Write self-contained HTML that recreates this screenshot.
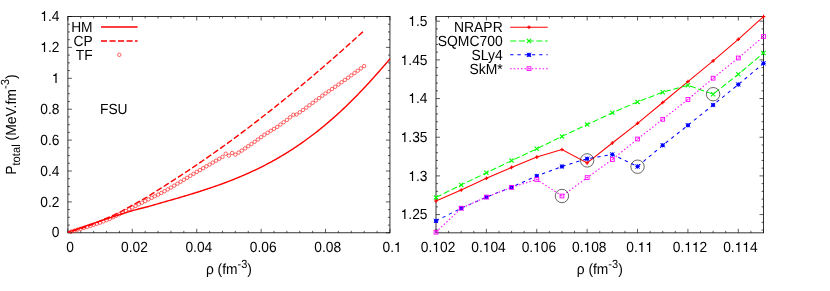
<!DOCTYPE html>
<html><head><meta charset="utf-8"><title>plot</title>
<style>html,body{margin:0;padding:0;background:#fff;}svg{display:block;}</style></head>
<body>
<svg width="830" height="291" viewBox="0 0 830 291" font-family='"Liberation Sans", sans-serif' fill="#000" text-rendering="geometricPrecision">
<rect width="830" height="291" fill="#fff"/>
<filter id="ga" x="0" y="0" width="830" height="291" filterUnits="userSpaceOnUse" color-interpolation-filters="sRGB"><feOffset dx="0" dy="0"/></filter>
<g filter="url(#ga)">
<rect x="67.90" y="16.50" width="322.05" height="216.30" fill="none" stroke="#000" stroke-width="0.80"/>
<path d="M67.90 232.80v-4.00 M67.90 16.50v4.00 M80.78 232.80v-2.00 M80.78 16.50v2.00 M93.66 232.80v-2.00 M93.66 16.50v2.00 M106.55 232.80v-2.00 M106.55 16.50v2.00 M119.43 232.80v-2.00 M119.43 16.50v2.00 M132.31 232.80v-4.00 M132.31 16.50v4.00 M145.19 232.80v-2.00 M145.19 16.50v2.00 M158.07 232.80v-2.00 M158.07 16.50v2.00 M170.96 232.80v-2.00 M170.96 16.50v2.00 M183.84 232.80v-2.00 M183.84 16.50v2.00 M196.72 232.80v-4.00 M196.72 16.50v4.00 M209.60 232.80v-2.00 M209.60 16.50v2.00 M222.48 232.80v-2.00 M222.48 16.50v2.00 M235.37 232.80v-2.00 M235.37 16.50v2.00 M248.25 232.80v-2.00 M248.25 16.50v2.00 M261.13 232.80v-4.00 M261.13 16.50v4.00 M274.01 232.80v-2.00 M274.01 16.50v2.00 M286.89 232.80v-2.00 M286.89 16.50v2.00 M299.78 232.80v-2.00 M299.78 16.50v2.00 M312.66 232.80v-2.00 M312.66 16.50v2.00 M325.54 232.80v-4.00 M325.54 16.50v4.00 M338.42 232.80v-2.00 M338.42 16.50v2.00 M351.30 232.80v-2.00 M351.30 16.50v2.00 M364.19 232.80v-2.00 M364.19 16.50v2.00 M377.07 232.80v-2.00 M377.07 16.50v2.00 M389.95 232.80v-4.00 M389.95 16.50v4.00 M67.90 232.80h4.00 M389.95 232.80h-4.00 M67.90 225.08h2.00 M389.95 225.08h-2.00 M67.90 217.35h2.00 M389.95 217.35h-2.00 M67.90 209.62h2.00 M389.95 209.62h-2.00 M67.90 201.90h4.00 M389.95 201.90h-4.00 M67.90 194.18h2.00 M389.95 194.18h-2.00 M67.90 186.45h2.00 M389.95 186.45h-2.00 M67.90 178.73h2.00 M389.95 178.73h-2.00 M67.90 171.00h4.00 M389.95 171.00h-4.00 M67.90 163.28h2.00 M389.95 163.28h-2.00 M67.90 155.55h2.00 M389.95 155.55h-2.00 M67.90 147.82h2.00 M389.95 147.82h-2.00 M67.90 140.10h4.00 M389.95 140.10h-4.00 M67.90 132.38h2.00 M389.95 132.38h-2.00 M67.90 124.65h2.00 M389.95 124.65h-2.00 M67.90 116.93h2.00 M389.95 116.93h-2.00 M67.90 109.20h4.00 M389.95 109.20h-4.00 M67.90 101.47h2.00 M389.95 101.47h-2.00 M67.90 93.75h2.00 M389.95 93.75h-2.00 M67.90 86.03h2.00 M389.95 86.03h-2.00 M67.90 78.30h4.00 M389.95 78.30h-4.00 M67.90 70.58h2.00 M389.95 70.58h-2.00 M67.90 62.85h2.00 M389.95 62.85h-2.00 M67.90 55.12h2.00 M389.95 55.12h-2.00 M67.90 47.40h4.00 M389.95 47.40h-4.00 M67.90 39.68h2.00 M389.95 39.68h-2.00 M67.90 31.95h2.00 M389.95 31.95h-2.00 M67.90 24.22h2.00 M389.95 24.22h-2.00 M67.90 16.50h4.00 M389.95 16.50h-4.00" stroke="#000" stroke-width="0.65" fill="none"/>
<g transform="translate(70.00 252.00) scale(0.985 1.050)"><text x="-3.89" y="0" font-size="14.00">0</text></g>
<g transform="translate(134.41 252.00) scale(0.985 1.050)"><text x="-13.62" y="0" font-size="14.00">0.02</text></g>
<g transform="translate(198.82 252.00) scale(0.985 1.050)"><text x="-13.62" y="0" font-size="14.00">0.04</text></g>
<g transform="translate(263.23 252.00) scale(0.985 1.050)"><text x="-13.62" y="0" font-size="14.00">0.06</text></g>
<g transform="translate(327.64 252.00) scale(0.985 1.050)"><text x="-13.62" y="0" font-size="14.00">0.08</text></g>
<g transform="translate(392.05 252.00) scale(0.985 1.050)"><text x="-9.73" y="0" font-size="14.00">0.</text><path transform="translate(1.95 0) scale(0.01400 -0.01400)" d="M259 0V481H102V541C190 545 262 581 291 675H347V0Z"/></g>
<g transform="translate(59.50 237.00) scale(0.985 1.050)"><text x="-7.78" y="0" font-size="14.00">0</text></g>
<g transform="translate(59.50 207.00) scale(0.985 1.050)"><text x="-19.46" y="0" font-size="14.00">0.2</text></g>
<g transform="translate(59.50 176.00) scale(0.985 1.050)"><text x="-19.46" y="0" font-size="14.00">0.4</text></g>
<g transform="translate(59.50 145.00) scale(0.985 1.050)"><text x="-19.46" y="0" font-size="14.00">0.6</text></g>
<g transform="translate(59.50 114.00) scale(0.985 1.050)"><text x="-19.46" y="0" font-size="14.00">0.8</text></g>
<g transform="translate(59.50 83.00) scale(0.985 1.050)"><path transform="translate(-7.78 0) scale(0.01400 -0.01400)" d="M259 0V481H102V541C190 545 262 581 291 675H347V0Z"/></g>
<g transform="translate(59.50 52.00) scale(0.985 1.050)"><path transform="translate(-19.46 0) scale(0.01400 -0.01400)" d="M259 0V481H102V541C190 545 262 581 291 675H347V0Z"/><text x="-11.68" y="0" font-size="14.00">.2</text></g>
<g transform="translate(59.50 21.00) scale(0.985 1.050)"><path transform="translate(-19.46 0) scale(0.01400 -0.01400)" d="M259 0V481H102V541C190 545 262 581 291 675H347V0Z"/><text x="-11.68" y="0" font-size="14.00">.4</text></g>
<text transform="translate(228.93 273.70) scale(0.985 1.050)" text-anchor="middle" font-size="14.00">ρ (fm<tspan font-size="11.20" dy="-5.0">-3</tspan><tspan dy="5.0">)</tspan></text>
<text transform="translate(15.5 124.6) rotate(-90) scale(0.998 1.050)" text-anchor="middle" font-size="14.00">P<tspan font-size="11.20" dy="4.4">total</tspan><tspan dy="-4.4"> (MeV.fm</tspan><tspan font-size="11.20" dy="-6.4">-3</tspan><tspan dy="6.4">)</tspan></text>
<text transform="translate(92.60 31.80) scale(0.985 1.050)" text-anchor="end" font-size="14.00" >HM</text>
<text transform="translate(92.60 45.80) scale(0.985 1.050)" text-anchor="end" font-size="14.00" >CP</text>
<text transform="translate(92.60 59.80) scale(0.985 1.050)" text-anchor="end" font-size="14.00" >TF</text>
<path d="M101 26.9H137.6" stroke="#ff0000" stroke-width="1.5"/>
<path d="M101 41H137.6" stroke="#ff0000" stroke-width="1.5" stroke-dasharray="6.1 2.4"/>
<circle cx="119.3" cy="54.8" r="1.72" stroke="#ff0000" stroke-width="0.6" fill="none"/>
<text transform="translate(100.00 113.80) scale(0.985 1.050)" text-anchor="start" font-size="14.00" >FSU</text>
<rect x="436.00" y="16.50" width="327.50" height="216.35" fill="none" stroke="#000" stroke-width="0.80"/>
<path d="M436.00 232.85v-4.00 M436.00 16.50v4.00 M448.60 232.85v-2.00 M448.60 16.50v2.00 M461.19 232.85v-2.00 M461.19 16.50v2.00 M473.79 232.85v-2.00 M473.79 16.50v2.00 M486.38 232.85v-4.00 M486.38 16.50v4.00 M498.98 232.85v-2.00 M498.98 16.50v2.00 M511.58 232.85v-2.00 M511.58 16.50v2.00 M524.17 232.85v-2.00 M524.17 16.50v2.00 M536.77 232.85v-4.00 M536.77 16.50v4.00 M549.37 232.85v-2.00 M549.37 16.50v2.00 M561.96 232.85v-2.00 M561.96 16.50v2.00 M574.56 232.85v-2.00 M574.56 16.50v2.00 M587.15 232.85v-4.00 M587.15 16.50v4.00 M599.75 232.85v-2.00 M599.75 16.50v2.00 M612.35 232.85v-2.00 M612.35 16.50v2.00 M624.94 232.85v-2.00 M624.94 16.50v2.00 M637.54 232.85v-4.00 M637.54 16.50v4.00 M650.13 232.85v-2.00 M650.13 16.50v2.00 M662.73 232.85v-2.00 M662.73 16.50v2.00 M675.33 232.85v-2.00 M675.33 16.50v2.00 M687.92 232.85v-4.00 M687.92 16.50v4.00 M700.52 232.85v-2.00 M700.52 16.50v2.00 M713.12 232.85v-2.00 M713.12 16.50v2.00 M725.71 232.85v-2.00 M725.71 16.50v2.00 M738.31 232.85v-4.00 M738.31 16.50v4.00 M750.90 232.85v-2.00 M750.90 16.50v2.00 M763.50 232.85v-2.00 M763.50 16.50v2.00 M436.00 21.20h4.00 M763.50 21.20h-4.00 M436.00 28.93h2.00 M763.50 28.93h-2.00 M436.00 36.67h2.00 M763.50 36.67h-2.00 M436.00 44.41h2.00 M763.50 44.41h-2.00 M436.00 52.14h2.00 M763.50 52.14h-2.00 M436.00 59.88h4.00 M763.50 59.88h-4.00 M436.00 67.61h2.00 M763.50 67.61h-2.00 M436.00 75.34h2.00 M763.50 75.34h-2.00 M436.00 83.08h2.00 M763.50 83.08h-2.00 M436.00 90.82h2.00 M763.50 90.82h-2.00 M436.00 98.55h4.00 M763.50 98.55h-4.00 M436.00 106.29h2.00 M763.50 106.29h-2.00 M436.00 114.02h2.00 M763.50 114.02h-2.00 M436.00 121.76h2.00 M763.50 121.76h-2.00 M436.00 129.49h2.00 M763.50 129.49h-2.00 M436.00 137.22h4.00 M763.50 137.22h-4.00 M436.00 144.96h2.00 M763.50 144.96h-2.00 M436.00 152.69h2.00 M763.50 152.69h-2.00 M436.00 160.43h2.00 M763.50 160.43h-2.00 M436.00 168.16h2.00 M763.50 168.16h-2.00 M436.00 175.90h4.00 M763.50 175.90h-4.00 M436.00 183.63h2.00 M763.50 183.63h-2.00 M436.00 191.37h2.00 M763.50 191.37h-2.00 M436.00 199.10h2.00 M763.50 199.10h-2.00 M436.00 206.84h2.00 M763.50 206.84h-2.00 M436.00 214.57h4.00 M763.50 214.57h-4.00 M436.00 222.31h2.00 M763.50 222.31h-2.00 M436.00 230.04h2.00 M763.50 230.04h-2.00" stroke="#000" stroke-width="0.65" fill="none"/>
<g transform="translate(438.10 252.00) scale(0.985 1.050)"><text x="-17.51" y="0" font-size="14.00">0.</text><path transform="translate(-5.84 0) scale(0.01400 -0.01400)" d="M259 0V481H102V541C190 545 262 581 291 675H347V0Z"/><text x="1.95" y="0" font-size="14.00">02</text></g>
<g transform="translate(488.48 252.00) scale(0.985 1.050)"><text x="-17.51" y="0" font-size="14.00">0.</text><path transform="translate(-5.84 0) scale(0.01400 -0.01400)" d="M259 0V481H102V541C190 545 262 581 291 675H347V0Z"/><text x="1.95" y="0" font-size="14.00">04</text></g>
<g transform="translate(538.87 252.00) scale(0.985 1.050)"><text x="-17.51" y="0" font-size="14.00">0.</text><path transform="translate(-5.84 0) scale(0.01400 -0.01400)" d="M259 0V481H102V541C190 545 262 581 291 675H347V0Z"/><text x="1.95" y="0" font-size="14.00">06</text></g>
<g transform="translate(589.25 252.00) scale(0.985 1.050)"><text x="-17.51" y="0" font-size="14.00">0.</text><path transform="translate(-5.84 0) scale(0.01400 -0.01400)" d="M259 0V481H102V541C190 545 262 581 291 675H347V0Z"/><text x="1.95" y="0" font-size="14.00">08</text></g>
<g transform="translate(639.64 252.00) scale(0.985 1.050)"><text x="-13.62" y="0" font-size="14.00">0.</text><path transform="translate(-1.95 0) scale(0.01400 -0.01400)" d="M259 0V481H102V541C190 545 262 581 291 675H347V0Z"/><path transform="translate(5.84 0) scale(0.01400 -0.01400)" d="M259 0V481H102V541C190 545 262 581 291 675H347V0Z"/></g>
<g transform="translate(690.02 252.00) scale(0.985 1.050)"><text x="-17.51" y="0" font-size="14.00">0.</text><path transform="translate(-5.84 0) scale(0.01400 -0.01400)" d="M259 0V481H102V541C190 545 262 581 291 675H347V0Z"/><path transform="translate(1.95 0) scale(0.01400 -0.01400)" d="M259 0V481H102V541C190 545 262 581 291 675H347V0Z"/><text x="9.73" y="0" font-size="14.00">2</text></g>
<g transform="translate(740.41 252.00) scale(0.985 1.050)"><text x="-17.51" y="0" font-size="14.00">0.</text><path transform="translate(-5.84 0) scale(0.01400 -0.01400)" d="M259 0V481H102V541C190 545 262 581 291 675H347V0Z"/><path transform="translate(1.95 0) scale(0.01400 -0.01400)" d="M259 0V481H102V541C190 545 262 581 291 675H347V0Z"/><text x="9.73" y="0" font-size="14.00">4</text></g>
<g transform="translate(427.50 26.00) scale(0.985 1.050)"><path transform="translate(-19.46 0) scale(0.01400 -0.01400)" d="M259 0V481H102V541C190 545 262 581 291 675H347V0Z"/><text x="-11.68" y="0" font-size="14.00">.5</text></g>
<g transform="translate(427.50 65.00) scale(0.985 1.050)"><path transform="translate(-27.24 0) scale(0.01400 -0.01400)" d="M259 0V481H102V541C190 545 262 581 291 675H347V0Z"/><text x="-19.46" y="0" font-size="14.00">.45</text></g>
<g transform="translate(427.50 103.00) scale(0.985 1.050)"><path transform="translate(-19.46 0) scale(0.01400 -0.01400)" d="M259 0V481H102V541C190 545 262 581 291 675H347V0Z"/><text x="-11.68" y="0" font-size="14.00">.4</text></g>
<g transform="translate(427.50 142.00) scale(0.985 1.050)"><path transform="translate(-27.24 0) scale(0.01400 -0.01400)" d="M259 0V481H102V541C190 545 262 581 291 675H347V0Z"/><text x="-19.46" y="0" font-size="14.00">.35</text></g>
<g transform="translate(427.50 181.00) scale(0.985 1.050)"><path transform="translate(-19.46 0) scale(0.01400 -0.01400)" d="M259 0V481H102V541C190 545 262 581 291 675H347V0Z"/><text x="-11.68" y="0" font-size="14.00">.3</text></g>
<g transform="translate(427.50 219.00) scale(0.985 1.050)"><path transform="translate(-27.24 0) scale(0.01400 -0.01400)" d="M259 0V481H102V541C190 545 262 581 291 675H347V0Z"/><text x="-19.46" y="0" font-size="14.00">.25</text></g>
<text transform="translate(599.75 273.70) scale(0.985 1.050)" text-anchor="middle" font-size="14.00">ρ (fm<tspan font-size="11.20" dy="-5.0">-3</tspan><tspan dy="5.0">)</tspan></text>
<text transform="translate(502.70 32.00) scale(0.995 1.050)" text-anchor="end" font-size="14.00" >NRAPR</text>
<path d="M510.2 27.20H547.7" stroke="#ff0000" stroke-width="1.05"/>
<path d="M527.20 27.20H530.80M529.00 25.40V29.00" stroke="#ff0000" stroke-width="1.2" fill="none"/>
<text transform="translate(502.70 46.00) scale(0.995 1.050)" text-anchor="end" font-size="14.00" >SQMC700</text>
<path d="M510.2 41.02H547.7" stroke="#00ff00" stroke-width="1.05" stroke-dasharray="6.1 2.6"/>
<path d="M526.90 38.92L531.10 43.12M526.90 43.12L531.10 38.92" stroke="#00ff00" stroke-width="1.1" fill="none"/>
<text transform="translate(502.70 59.90) scale(0.995 1.050)" text-anchor="end" font-size="14.00" >SLy4</text>
<path d="M510.2 54.84H547.7" stroke="#0000ff" stroke-width="1.05" stroke-dasharray="3.3 3.95"/>
<path d="M526.85 52.69L531.15 56.99M526.85 56.99L531.15 52.69M526.85 54.84H531.15M529.00 52.69V56.99" stroke="#0000ff" stroke-width="1.0" fill="none"/><rect x="527.35" y="53.19" width="3.3" height="3.3" fill="#0000ff"/>
<text transform="translate(502.70 73.90) scale(0.995 1.050)" text-anchor="end" font-size="14.00" >SkM*</text>
<path d="M510.2 68.66H547.7" stroke="#ff00ff" stroke-width="1.05" stroke-dasharray="1.5 2.1"/>
<rect x="527.10" y="66.76" width="3.80" height="3.80" stroke="#ff00ff" stroke-width="0.9" fill="none"/><rect x="528.50" y="68.16" width="1" height="1" fill="#ff00ff"/>
<clipPath id="cl"><rect x="67.90" y="13.50" width="322.55" height="222.30"/></clipPath>
<g clip-path="url(#cl)" fill="none" stroke="#ff0000">
<path d="M67.80 232.20 L68.81 231.85 L69.82 231.51 L70.83 231.16 L71.84 230.81 L72.85 230.46 L73.86 230.12 L74.87 229.77 L75.88 229.42 L76.89 229.07 L77.90 228.72 L78.91 228.38 L79.92 228.03 L80.93 227.68 L81.94 227.33 L82.95 226.98 L83.96 226.63 L84.97 226.28 L85.98 225.93 L86.99 225.58 L88.00 225.23 L89.01 224.88 L90.02 224.53 L91.03 224.18 L92.04 223.84 L93.05 223.49 L94.06 223.14 L95.07 222.79 L96.08 222.44 L97.09 222.09 L98.10 221.74 L99.11 221.40 L100.12 221.05 L101.13 220.70 L102.14 220.36 L103.15 220.01 L104.16 219.67 L105.17 219.33 L106.18 218.99 L107.19 218.65 L108.20 218.31 L109.21 217.97 L110.22 217.64 L111.23 217.30 L112.24 216.97 L113.25 216.64 L114.26 216.31 L115.27 215.98 L116.28 215.65 L117.29 215.33 L118.30 215.00 L119.31 214.68 L120.32 214.36 L121.33 214.04 L122.34 213.72 L123.35 213.40 L124.36 213.09 L125.37 212.78 L126.38 212.47 L127.39 212.17 L128.40 211.87 L129.41 211.57 L130.42 211.28 L131.43 210.99 L132.44 210.69 L133.45 210.41 L134.46 210.12 L135.47 209.84 L136.48 209.55 L137.49 209.28 L138.50 209.00 L139.51 208.73 L140.52 208.46 L141.53 208.20 L142.54 207.95 L143.55 207.70 L144.56 207.45 L145.57 207.21 L146.58 206.96 L147.59 206.71 L148.60 206.45 L149.61 206.18 L150.62 205.91 L151.63 205.63 L152.64 205.34 L153.65 205.04 L154.66 204.74 L155.67 204.45 L156.68 204.15 L157.69 203.85 L158.70 203.56 L159.71 203.27 L160.72 202.98 L161.73 202.69 L162.74 202.39 L163.75 202.10 L164.76 201.81 L165.77 201.52 L166.78 201.23 L167.79 200.94 L168.80 200.66 L169.81 200.37 L170.82 200.08 L171.83 199.79 L172.84 199.50 L173.85 199.21 L174.86 198.92 L175.87 198.63 L176.88 198.34 L177.89 198.05 L178.90 197.76 L179.91 197.47 L180.92 197.18 L181.93 196.88 L182.94 196.58 L183.95 196.28 L184.96 195.98 L185.97 195.67 L186.98 195.37 L187.99 195.06 L189.00 194.75 L190.01 194.45 L191.02 194.14 L192.03 193.83 L193.04 193.52 L194.05 193.21 L195.06 192.90 L196.07 192.59 L197.08 192.27 L198.09 191.96 L199.10 191.64 L200.11 191.32 L201.12 190.99 L202.13 190.66 L203.14 190.34 L204.15 190.01 L205.16 189.68 L206.17 189.34 L207.18 189.01 L208.19 188.67 L209.20 188.33 L210.21 187.99 L211.22 187.65 L212.23 187.30 L213.24 186.96 L214.25 186.61 L215.26 186.26 L216.27 185.91 L217.28 185.55 L218.29 185.20 L219.30 184.84 L220.31 184.48 L221.32 184.11 L222.33 183.74 L223.34 183.37 L224.35 183.00 L225.36 182.62 L226.37 182.24 L227.38 181.86 L228.39 181.47 L229.41 181.08 L230.42 180.69 L231.43 180.29 L232.44 179.89 L233.45 179.49 L234.46 179.08 L235.47 178.67 L236.48 178.26 L237.49 177.84 L238.50 177.43 L239.51 177.00 L240.52 176.58 L241.53 176.15 L242.54 175.72 L243.55 175.28 L244.56 174.85 L245.57 174.40 L246.58 173.96 L247.59 173.51 L248.60 173.06 L249.61 172.60 L250.62 172.14 L251.63 171.67 L252.64 171.21 L253.65 170.73 L254.66 170.26 L255.67 169.78 L256.68 169.29 L257.69 168.80 L258.70 168.31 L259.71 167.82 L260.72 167.31 L261.73 166.81 L262.74 166.30 L263.75 165.79 L264.76 165.27 L265.77 164.75 L266.78 164.22 L267.79 163.69 L268.80 163.15 L269.81 162.61 L270.82 162.07 L271.83 161.52 L272.84 160.97 L273.85 160.41 L274.86 159.84 L275.87 159.28 L276.88 158.70 L277.89 158.12 L278.90 157.54 L279.91 156.95 L280.92 156.36 L281.93 155.76 L282.94 155.15 L283.95 154.54 L284.96 153.93 L285.97 153.31 L286.98 152.69 L287.99 152.05 L289.00 151.42 L290.01 150.78 L291.02 150.13 L292.03 149.48 L293.04 148.82 L294.05 148.15 L295.06 147.49 L296.07 146.81 L297.08 146.13 L298.09 145.45 L299.10 144.76 L300.11 144.06 L301.12 143.36 L302.13 142.65 L303.14 141.94 L304.15 141.23 L305.16 140.50 L306.17 139.78 L307.18 139.05 L308.19 138.31 L309.20 137.56 L310.21 136.81 L311.22 136.06 L312.23 135.29 L313.24 134.52 L314.25 133.75 L315.26 132.97 L316.27 132.18 L317.28 131.39 L318.29 130.59 L319.30 129.79 L320.31 128.97 L321.32 128.16 L322.33 127.33 L323.34 126.50 L324.35 125.67 L325.36 124.82 L326.37 123.98 L327.38 123.12 L328.39 122.26 L329.40 121.40 L330.41 120.52 L331.42 119.64 L332.43 118.76 L333.44 117.87 L334.45 116.97 L335.46 116.07 L336.47 115.16 L337.48 114.24 L338.49 113.32 L339.50 112.39 L340.51 111.46 L341.52 110.52 L342.53 109.57 L343.54 108.62 L344.55 107.66 L345.56 106.70 L346.57 105.72 L347.58 104.75 L348.59 103.77 L349.60 102.78 L350.61 101.78 L351.62 100.78 L352.63 99.78 L353.64 98.77 L354.65 97.75 L355.66 96.72 L356.67 95.69 L357.68 94.66 L358.69 93.62 L359.70 92.57 L360.71 91.52 L361.72 90.46 L362.73 89.40 L363.74 88.33 L364.75 87.26 L365.76 86.18 L366.77 85.09 L367.78 84.00 L368.79 82.91 L369.80 81.80 L370.81 80.70 L371.82 79.59 L372.83 78.47 L373.84 77.35 L374.85 76.22 L375.86 75.09 L376.87 73.96 L377.88 72.81 L378.89 71.67 L379.90 70.52 L380.91 69.36 L381.92 68.20 L382.93 67.04 L383.94 65.87 L384.95 64.70 L385.96 63.52 L386.97 62.34 L387.98 61.16 L388.99 59.97 L390.00 58.77" stroke-width="1.40"/>
<path d="M362.90 31.73 L361.91 32.63 L360.93 33.54 L359.94 34.44 L358.95 35.34 L357.97 36.24 L356.98 37.13 L355.99 38.03 L355.00 38.92 L354.02 39.81 L353.03 40.71 L352.04 41.60 L351.06 42.48 L350.07 43.37 L349.08 44.26 L348.10 45.14 L347.11 46.03 L346.12 46.91 L345.13 47.79 L344.15 48.67 L343.16 49.55 L342.17 50.42 L341.19 51.30 L340.20 52.17 L339.21 53.04 L338.23 53.91 L337.24 54.78 L336.25 55.65 L335.27 56.52 L334.28 57.38 L333.29 58.24 L332.30 59.11 L331.32 59.97 L330.33 60.83 L329.34 61.68 L328.36 62.54 L327.37 63.40 L326.38 64.25 L325.40 65.10 L324.41 65.96 L323.42 66.81 L322.43 67.66 L321.45 68.50 L320.46 69.35 L319.47 70.20 L318.49 71.04 L317.50 71.89 L316.51 72.73 L315.53 73.57 L314.54 74.41 L313.55 75.25 L312.57 76.08 L311.58 76.92 L310.59 77.76 L309.60 78.59 L308.62 79.42 L307.63 80.25 L306.64 81.08 L305.66 81.91 L304.67 82.74 L303.68 83.56 L302.70 84.39 L301.71 85.21 L300.72 86.03 L299.73 86.85 L298.75 87.67 L297.76 88.48 L296.77 89.30 L295.79 90.11 L294.80 90.93 L293.81 91.74 L292.83 92.55 L291.84 93.36 L290.85 94.17 L289.87 94.98 L288.88 95.78 L287.89 96.59 L286.90 97.39 L285.92 98.19 L284.93 98.99 L283.94 99.79 L282.96 100.59 L281.97 101.39 L280.98 102.19 L280.00 102.98 L279.01 103.78 L278.02 104.57 L277.03 105.36 L276.05 106.15 L275.06 106.94 L274.07 107.73 L273.09 108.51 L272.10 109.29 L271.11 110.08 L270.13 110.86 L269.14 111.64 L268.15 112.42 L267.17 113.19 L266.18 113.97 L265.19 114.74 L264.20 115.52 L263.22 116.29 L262.23 117.06 L261.24 117.83 L260.26 118.59 L259.27 119.36 L258.28 120.12 L257.30 120.89 L256.31 121.65 L255.32 122.41 L254.33 123.17 L253.35 123.93 L252.36 124.68 L251.37 125.44 L250.39 126.19 L249.40 126.94 L248.41 127.69 L247.43 128.44 L246.44 129.19 L245.45 129.94 L244.47 130.68 L243.48 131.42 L242.49 132.17 L241.50 132.91 L240.52 133.65 L239.53 134.39 L238.54 135.12 L237.56 135.86 L236.57 136.59 L235.58 137.32 L234.60 138.05 L233.61 138.78 L232.62 139.51 L231.63 140.23 L230.65 140.95 L229.66 141.68 L228.67 142.39 L227.69 143.11 L226.70 143.83 L225.71 144.54 L224.73 145.25 L223.74 145.96 L222.75 146.67 L221.77 147.38 L220.78 148.08 L219.79 148.79 L218.80 149.49 L217.82 150.19 L216.83 150.89 L215.84 151.59 L214.86 152.28 L213.87 152.98 L212.88 153.67 L211.90 154.36 L210.91 155.06 L209.92 155.75 L208.93 156.43 L207.95 157.12 L206.96 157.81 L205.97 158.49 L204.99 159.17 L204.00 159.85 L203.01 160.53 L202.03 161.21 L201.04 161.89 L200.05 162.57 L199.07 163.24 L198.08 163.91 L197.09 164.59 L196.10 165.26 L195.12 165.92 L194.13 166.59 L193.14 167.26 L192.16 167.92 L191.17 168.59 L190.18 169.25 L189.20 169.91 L188.21 170.57 L187.22 171.22 L186.23 171.88 L185.25 172.54 L184.26 173.19 L183.27 173.84 L182.29 174.49 L181.30 175.14 L180.31 175.79 L179.33 176.44 L178.34 177.08 L177.35 177.73 L176.37 178.37 L175.38 179.01 L174.39 179.65 L173.40 180.29 L172.42 180.92 L171.43 181.56 L170.44 182.19 L169.46 182.82 L168.47 183.45 L167.48 184.08 L166.50 184.71 L165.51 185.34 L164.52 185.97 L163.53 186.59 L162.55 187.22 L161.56 187.84 L160.57 188.46 L159.59 189.08 L158.60 189.70 L157.61 190.32 L156.63 190.94 L155.64 191.56 L154.65 192.19 L153.67 192.82 L152.68 193.46 L151.69 194.10 L150.70 194.74 L149.72 195.38 L148.73 196.00 L147.74 196.62 L146.76 197.23 L145.77 197.81 L144.78 198.39 L143.80 198.95 L142.81 199.50 L141.82 200.05 L140.83 200.59 L139.85 201.13 L138.86 201.68 L137.87 202.22 L136.89 202.75 L135.90 203.28 L134.91 203.81 L133.93 204.35 L132.94 204.88 L131.95 205.42 L130.97 205.98 L129.98 206.54 L128.99 207.12 L128.00 207.70 L127.02 208.27 L126.03 208.83 L125.04 209.39 L124.06 209.93 L123.07 210.47 L122.08 211.00 L121.10 211.51 L120.11 212.02 L119.12 212.51 L118.13 213.00 L117.15 213.48 L116.16 213.96 L115.17 214.42 L114.19 214.87 L113.20 215.31 L112.21 215.74 L111.23 216.17 L110.24 216.60 L109.25 217.02 L108.27 217.45 L107.28 217.87 L106.29 218.29 L105.30 218.72 L104.32 219.15 L103.33 219.59 L102.34 220.04 L101.36 220.48 L100.37 220.93 L99.38 221.39 L98.40 221.85 L97.41 222.32 L96.42 222.77 L95.43 223.19 L94.45 223.58 L93.46 223.96 L92.47 224.34 L91.49 224.70 L90.50 225.07 L89.51 225.43 L88.53 225.79 L87.54 226.16 L86.55 226.52 L85.57 226.88 L84.58 227.23 L83.59 227.58 L82.60 227.93 L81.62 228.27 L80.63 228.59 L79.64 228.92 L78.66 229.23 L77.67 229.54 L76.68 229.85 L75.70 230.15 L74.71 230.45 L73.72 230.75 L72.73 231.03 L71.75 231.32 L70.76 231.60 L69.77 231.87 L68.79 232.14 L67.80 232.40" stroke-width="1.40" stroke-dasharray="6.1 2.4"/>
<circle cx="71.12" cy="231.60" r="1.72" stroke-width="0.6"/>
<circle cx="74.34" cy="230.67" r="1.72" stroke-width="0.6"/>
<circle cx="77.56" cy="229.73" r="1.72" stroke-width="0.6"/>
<circle cx="80.78" cy="228.80" r="1.72" stroke-width="0.6"/>
<circle cx="84.00" cy="227.83" r="1.72" stroke-width="0.6"/>
<circle cx="87.22" cy="226.87" r="1.72" stroke-width="0.6"/>
<circle cx="90.44" cy="225.90" r="1.72" stroke-width="0.6"/>
<circle cx="93.66" cy="224.83" r="1.72" stroke-width="0.6"/>
<circle cx="96.88" cy="223.77" r="1.72" stroke-width="0.6"/>
<circle cx="100.10" cy="222.70" r="1.72" stroke-width="0.6"/>
<circle cx="103.33" cy="221.43" r="1.72" stroke-width="0.6"/>
<circle cx="106.55" cy="220.17" r="1.72" stroke-width="0.6"/>
<circle cx="109.77" cy="218.90" r="1.72" stroke-width="0.6"/>
<circle cx="112.99" cy="217.33" r="1.72" stroke-width="0.6"/>
<circle cx="116.21" cy="215.77" r="1.72" stroke-width="0.6"/>
<circle cx="119.43" cy="214.20" r="1.72" stroke-width="0.6"/>
<circle cx="122.65" cy="212.55" r="1.72" stroke-width="0.6"/>
<circle cx="125.87" cy="210.90" r="1.72" stroke-width="0.6"/>
<circle cx="129.09" cy="209.25" r="1.72" stroke-width="0.6"/>
<circle cx="132.31" cy="207.60" r="1.72" stroke-width="0.6"/>
<circle cx="135.53" cy="205.98" r="1.72" stroke-width="0.6"/>
<circle cx="138.75" cy="204.36" r="1.72" stroke-width="0.6"/>
<circle cx="141.97" cy="202.73" r="1.72" stroke-width="0.6"/>
<circle cx="145.19" cy="201.11" r="1.72" stroke-width="0.6"/>
<circle cx="148.41" cy="199.49" r="1.72" stroke-width="0.6"/>
<circle cx="151.63" cy="197.87" r="1.72" stroke-width="0.6"/>
<circle cx="154.85" cy="196.24" r="1.72" stroke-width="0.6"/>
<circle cx="158.07" cy="194.62" r="1.72" stroke-width="0.6"/>
<circle cx="161.29" cy="193.00" r="1.72" stroke-width="0.6"/>
<circle cx="164.51" cy="191.20" r="1.72" stroke-width="0.6"/>
<circle cx="167.74" cy="189.40" r="1.72" stroke-width="0.6"/>
<circle cx="170.96" cy="187.60" r="1.72" stroke-width="0.6"/>
<circle cx="174.18" cy="185.65" r="1.72" stroke-width="0.6"/>
<circle cx="177.40" cy="183.70" r="1.72" stroke-width="0.6"/>
<circle cx="180.62" cy="181.75" r="1.72" stroke-width="0.6"/>
<circle cx="183.84" cy="179.80" r="1.72" stroke-width="0.6"/>
<circle cx="187.06" cy="177.83" r="1.72" stroke-width="0.6"/>
<circle cx="190.28" cy="175.85" r="1.72" stroke-width="0.6"/>
<circle cx="193.50" cy="173.88" r="1.72" stroke-width="0.6"/>
<circle cx="196.72" cy="171.90" r="1.72" stroke-width="0.6"/>
<circle cx="199.94" cy="170.05" r="1.72" stroke-width="0.6"/>
<circle cx="203.16" cy="168.20" r="1.72" stroke-width="0.6"/>
<circle cx="206.38" cy="166.35" r="1.72" stroke-width="0.6"/>
<circle cx="209.60" cy="164.50" r="1.72" stroke-width="0.6"/>
<circle cx="212.82" cy="162.60" r="1.72" stroke-width="0.6"/>
<circle cx="216.04" cy="160.70" r="1.72" stroke-width="0.6"/>
<circle cx="219.26" cy="158.80" r="1.72" stroke-width="0.6"/>
<circle cx="222.48" cy="156.90" r="1.72" stroke-width="0.6"/>
<circle cx="225.70" cy="153.70" r="1.72" stroke-width="0.6"/>
<circle cx="228.92" cy="155.60" r="1.72" stroke-width="0.6"/>
<circle cx="232.15" cy="153.00" r="1.72" stroke-width="0.6"/>
<circle cx="235.37" cy="154.65" r="1.72" stroke-width="0.6"/>
<circle cx="238.59" cy="152.50" r="1.72" stroke-width="0.6"/>
<circle cx="241.81" cy="150.60" r="1.72" stroke-width="0.6"/>
<circle cx="245.03" cy="148.40" r="1.72" stroke-width="0.6"/>
<circle cx="248.25" cy="146.20" r="1.72" stroke-width="0.6"/>
<circle cx="251.47" cy="144.00" r="1.72" stroke-width="0.6"/>
<circle cx="254.69" cy="141.80" r="1.72" stroke-width="0.6"/>
<circle cx="257.91" cy="139.47" r="1.72" stroke-width="0.6"/>
<circle cx="261.13" cy="137.13" r="1.72" stroke-width="0.6"/>
<circle cx="264.35" cy="134.80" r="1.72" stroke-width="0.6"/>
<circle cx="267.57" cy="132.80" r="1.72" stroke-width="0.6"/>
<circle cx="270.79" cy="130.80" r="1.72" stroke-width="0.6"/>
<circle cx="274.01" cy="128.85" r="1.72" stroke-width="0.6"/>
<circle cx="277.23" cy="126.90" r="1.72" stroke-width="0.6"/>
<circle cx="280.45" cy="124.57" r="1.72" stroke-width="0.6"/>
<circle cx="283.67" cy="122.23" r="1.72" stroke-width="0.6"/>
<circle cx="286.89" cy="119.90" r="1.72" stroke-width="0.6"/>
<circle cx="290.11" cy="117.35" r="1.72" stroke-width="0.6"/>
<circle cx="293.34" cy="114.80" r="1.72" stroke-width="0.6"/>
<circle cx="296.56" cy="114.50" r="1.72" stroke-width="0.6"/>
<circle cx="299.78" cy="112.30" r="1.72" stroke-width="0.6"/>
<circle cx="303.00" cy="109.95" r="1.72" stroke-width="0.6"/>
<circle cx="306.22" cy="107.60" r="1.72" stroke-width="0.6"/>
<circle cx="309.44" cy="105.22" r="1.72" stroke-width="0.6"/>
<circle cx="312.66" cy="102.84" r="1.72" stroke-width="0.6"/>
<circle cx="315.88" cy="100.46" r="1.72" stroke-width="0.6"/>
<circle cx="319.10" cy="98.08" r="1.72" stroke-width="0.6"/>
<circle cx="322.32" cy="95.70" r="1.72" stroke-width="0.6"/>
<circle cx="325.54" cy="93.47" r="1.72" stroke-width="0.6"/>
<circle cx="328.76" cy="91.25" r="1.72" stroke-width="0.6"/>
<circle cx="331.98" cy="89.03" r="1.72" stroke-width="0.6"/>
<circle cx="335.20" cy="86.80" r="1.72" stroke-width="0.6"/>
<circle cx="338.42" cy="84.53" r="1.72" stroke-width="0.6"/>
<circle cx="341.64" cy="82.25" r="1.72" stroke-width="0.6"/>
<circle cx="344.86" cy="79.97" r="1.72" stroke-width="0.6"/>
<circle cx="348.08" cy="77.70" r="1.72" stroke-width="0.6"/>
<circle cx="351.30" cy="75.38" r="1.72" stroke-width="0.6"/>
<circle cx="354.52" cy="73.06" r="1.72" stroke-width="0.6"/>
<circle cx="357.74" cy="70.74" r="1.72" stroke-width="0.6"/>
<circle cx="360.97" cy="68.42" r="1.72" stroke-width="0.6"/>
<circle cx="364.19" cy="66.10" r="1.72" stroke-width="0.6"/>
</g>
<clipPath id="cr"><rect x="432.00" y="12.50" width="335.50" height="224.35"/></clipPath>
<g clip-path="url(#cr)" fill="none">
<path d="M436.00 201.00 L461.19 190.00 L486.38 178.30 L511.58 167.40 L536.77 157.10 L561.96 149.50 L587.15 162.90 L612.35 143.00 L637.54 123.30 L662.73 102.50 L687.92 81.60 L713.12 60.90 L738.31 39.30 L763.50 16.60" stroke="#ff0000" stroke-width="1.05"/>
<path d="M436.00 197.40 L461.19 184.90 L486.38 172.80 L511.58 160.60 L536.77 148.80 L561.96 136.40 L587.15 124.60 L612.35 112.80 L637.54 101.90 L662.73 92.20 L687.92 85.30 L713.12 94.20 L738.31 74.30 L763.50 53.00" stroke="#00ff00" stroke-width="1.05" stroke-dasharray="6.1 2.6"/>
<path d="M436.00 220.90 L461.19 208.20 L486.38 197.10 L511.58 187.10 L536.77 176.00 L561.96 166.50 L587.15 158.70 L612.35 154.50 L637.54 166.50 L662.73 145.30 L687.92 125.30 L713.12 105.00 L738.31 84.50 L763.50 63.40" stroke="#0000ff" stroke-width="1.05" stroke-dasharray="3.3 3.95"/>
<path d="M436.00 232.20 L461.19 208.20 L486.38 197.10 L511.58 187.40 L536.77 179.50 L561.96 196.00 L587.15 177.60 L612.35 159.50 L637.54 139.00 L662.73 119.30 L687.92 99.50 L713.12 78.20 L738.31 58.00 L763.50 36.50" stroke="#ff00ff" stroke-width="1.05" stroke-dasharray="1.5 2.1"/>
<path d="M434.20 201.00H437.80M436.00 199.20V202.80" stroke="#ff0000" stroke-width="1.2" fill="none"/>
<path d="M433.90 195.30L438.10 199.50M433.90 199.50L438.10 195.30" stroke="#00ff00" stroke-width="1.1" fill="none"/>
<path d="M433.85 218.75L438.15 223.05M433.85 223.05L438.15 218.75M433.85 220.90H438.15M436.00 218.75V223.05" stroke="#0000ff" stroke-width="1.0" fill="none"/><rect x="434.35" y="219.25" width="3.3" height="3.3" fill="#0000ff"/>
<rect x="434.10" y="230.30" width="3.80" height="3.80" stroke="#ff00ff" stroke-width="0.9" fill="none"/><rect x="435.50" y="231.70" width="1" height="1" fill="#ff00ff"/>
<path d="M459.39 190.00H462.99M461.19 188.20V191.80" stroke="#ff0000" stroke-width="1.2" fill="none"/>
<path d="M459.09 182.80L463.29 187.00M459.09 187.00L463.29 182.80" stroke="#00ff00" stroke-width="1.1" fill="none"/>
<path d="M459.04 206.05L463.34 210.35M459.04 210.35L463.34 206.05M459.04 208.20H463.34M461.19 206.05V210.35" stroke="#0000ff" stroke-width="1.0" fill="none"/><rect x="459.54" y="206.55" width="3.3" height="3.3" fill="#0000ff"/>
<rect x="459.29" y="206.30" width="3.80" height="3.80" stroke="#ff00ff" stroke-width="0.9" fill="none"/><rect x="460.69" y="207.70" width="1" height="1" fill="#ff00ff"/>
<path d="M484.58 178.30H488.18M486.38 176.50V180.10" stroke="#ff0000" stroke-width="1.2" fill="none"/>
<path d="M484.28 170.70L488.48 174.90M484.28 174.90L488.48 170.70" stroke="#00ff00" stroke-width="1.1" fill="none"/>
<path d="M484.23 194.95L488.53 199.25M484.23 199.25L488.53 194.95M484.23 197.10H488.53M486.38 194.95V199.25" stroke="#0000ff" stroke-width="1.0" fill="none"/><rect x="484.73" y="195.45" width="3.3" height="3.3" fill="#0000ff"/>
<rect x="484.48" y="195.20" width="3.80" height="3.80" stroke="#ff00ff" stroke-width="0.9" fill="none"/><rect x="485.88" y="196.60" width="1" height="1" fill="#ff00ff"/>
<path d="M509.78 167.40H513.38M511.58 165.60V169.20" stroke="#ff0000" stroke-width="1.2" fill="none"/>
<path d="M509.48 158.50L513.68 162.70M509.48 162.70L513.68 158.50" stroke="#00ff00" stroke-width="1.1" fill="none"/>
<path d="M509.43 184.95L513.73 189.25M509.43 189.25L513.73 184.95M509.43 187.10H513.73M511.58 184.95V189.25" stroke="#0000ff" stroke-width="1.0" fill="none"/><rect x="509.93" y="185.45" width="3.3" height="3.3" fill="#0000ff"/>
<rect x="509.68" y="185.50" width="3.80" height="3.80" stroke="#ff00ff" stroke-width="0.9" fill="none"/><rect x="511.08" y="186.90" width="1" height="1" fill="#ff00ff"/>
<path d="M534.97 157.10H538.57M536.77 155.30V158.90" stroke="#ff0000" stroke-width="1.2" fill="none"/>
<path d="M534.67 146.70L538.87 150.90M534.67 150.90L538.87 146.70" stroke="#00ff00" stroke-width="1.1" fill="none"/>
<path d="M534.62 173.85L538.92 178.15M534.62 178.15L538.92 173.85M534.62 176.00H538.92M536.77 173.85V178.15" stroke="#0000ff" stroke-width="1.0" fill="none"/><rect x="535.12" y="174.35" width="3.3" height="3.3" fill="#0000ff"/>
<rect x="534.87" y="177.60" width="3.80" height="3.80" stroke="#ff00ff" stroke-width="0.9" fill="none"/><rect x="536.27" y="179.00" width="1" height="1" fill="#ff00ff"/>
<path d="M560.16 149.50H563.76M561.96 147.70V151.30" stroke="#ff0000" stroke-width="1.2" fill="none"/>
<path d="M559.86 134.30L564.06 138.50M559.86 138.50L564.06 134.30" stroke="#00ff00" stroke-width="1.1" fill="none"/>
<path d="M559.81 164.35L564.11 168.65M559.81 168.65L564.11 164.35M559.81 166.50H564.11M561.96 164.35V168.65" stroke="#0000ff" stroke-width="1.0" fill="none"/><rect x="560.31" y="164.85" width="3.3" height="3.3" fill="#0000ff"/>
<rect x="560.06" y="194.10" width="3.80" height="3.80" stroke="#ff00ff" stroke-width="0.9" fill="none"/><rect x="561.46" y="195.50" width="1" height="1" fill="#ff00ff"/>
<path d="M585.35 162.90H588.95M587.15 161.10V164.70" stroke="#ff0000" stroke-width="1.2" fill="none"/>
<path d="M585.05 122.50L589.25 126.70M585.05 126.70L589.25 122.50" stroke="#00ff00" stroke-width="1.1" fill="none"/>
<path d="M585.00 156.55L589.30 160.85M585.00 160.85L589.30 156.55M585.00 158.70H589.30M587.15 156.55V160.85" stroke="#0000ff" stroke-width="1.0" fill="none"/><rect x="585.50" y="157.05" width="3.3" height="3.3" fill="#0000ff"/>
<rect x="585.25" y="175.70" width="3.80" height="3.80" stroke="#ff00ff" stroke-width="0.9" fill="none"/><rect x="586.65" y="177.10" width="1" height="1" fill="#ff00ff"/>
<path d="M610.55 143.00H614.15M612.35 141.20V144.80" stroke="#ff0000" stroke-width="1.2" fill="none"/>
<path d="M610.25 110.70L614.45 114.90M610.25 114.90L614.45 110.70" stroke="#00ff00" stroke-width="1.1" fill="none"/>
<path d="M610.20 152.35L614.50 156.65M610.20 156.65L614.50 152.35M610.20 154.50H614.50M612.35 152.35V156.65" stroke="#0000ff" stroke-width="1.0" fill="none"/><rect x="610.70" y="152.85" width="3.3" height="3.3" fill="#0000ff"/>
<rect x="610.45" y="157.60" width="3.80" height="3.80" stroke="#ff00ff" stroke-width="0.9" fill="none"/><rect x="611.85" y="159.00" width="1" height="1" fill="#ff00ff"/>
<path d="M635.74 123.30H639.34M637.54 121.50V125.10" stroke="#ff0000" stroke-width="1.2" fill="none"/>
<path d="M635.44 99.80L639.64 104.00M635.44 104.00L639.64 99.80" stroke="#00ff00" stroke-width="1.1" fill="none"/>
<path d="M635.39 164.35L639.69 168.65M635.39 168.65L639.69 164.35M635.39 166.50H639.69M637.54 164.35V168.65" stroke="#0000ff" stroke-width="1.0" fill="none"/><rect x="635.89" y="164.85" width="3.3" height="3.3" fill="#0000ff"/>
<rect x="635.64" y="137.10" width="3.80" height="3.80" stroke="#ff00ff" stroke-width="0.9" fill="none"/><rect x="637.04" y="138.50" width="1" height="1" fill="#ff00ff"/>
<path d="M660.93 102.50H664.53M662.73 100.70V104.30" stroke="#ff0000" stroke-width="1.2" fill="none"/>
<path d="M660.63 90.10L664.83 94.30M660.63 94.30L664.83 90.10" stroke="#00ff00" stroke-width="1.1" fill="none"/>
<path d="M660.58 143.15L664.88 147.45M660.58 147.45L664.88 143.15M660.58 145.30H664.88M662.73 143.15V147.45" stroke="#0000ff" stroke-width="1.0" fill="none"/><rect x="661.08" y="143.65" width="3.3" height="3.3" fill="#0000ff"/>
<rect x="660.83" y="117.40" width="3.80" height="3.80" stroke="#ff00ff" stroke-width="0.9" fill="none"/><rect x="662.23" y="118.80" width="1" height="1" fill="#ff00ff"/>
<path d="M686.12 81.60H689.72M687.92 79.80V83.40" stroke="#ff0000" stroke-width="1.2" fill="none"/>
<path d="M685.82 83.20L690.02 87.40M685.82 87.40L690.02 83.20" stroke="#00ff00" stroke-width="1.1" fill="none"/>
<path d="M685.77 123.15L690.07 127.45M685.77 127.45L690.07 123.15M685.77 125.30H690.07M687.92 123.15V127.45" stroke="#0000ff" stroke-width="1.0" fill="none"/><rect x="686.27" y="123.65" width="3.3" height="3.3" fill="#0000ff"/>
<rect x="686.02" y="97.60" width="3.80" height="3.80" stroke="#ff00ff" stroke-width="0.9" fill="none"/><rect x="687.42" y="99.00" width="1" height="1" fill="#ff00ff"/>
<path d="M711.32 60.90H714.92M713.12 59.10V62.70" stroke="#ff0000" stroke-width="1.2" fill="none"/>
<path d="M711.02 92.10L715.22 96.30M711.02 96.30L715.22 92.10" stroke="#00ff00" stroke-width="1.1" fill="none"/>
<path d="M710.97 102.85L715.27 107.15M710.97 107.15L715.27 102.85M710.97 105.00H715.27M713.12 102.85V107.15" stroke="#0000ff" stroke-width="1.0" fill="none"/><rect x="711.47" y="103.35" width="3.3" height="3.3" fill="#0000ff"/>
<rect x="711.22" y="76.30" width="3.80" height="3.80" stroke="#ff00ff" stroke-width="0.9" fill="none"/><rect x="712.62" y="77.70" width="1" height="1" fill="#ff00ff"/>
<path d="M736.51 39.30H740.11M738.31 37.50V41.10" stroke="#ff0000" stroke-width="1.2" fill="none"/>
<path d="M736.21 72.20L740.41 76.40M736.21 76.40L740.41 72.20" stroke="#00ff00" stroke-width="1.1" fill="none"/>
<path d="M736.16 82.35L740.46 86.65M736.16 86.65L740.46 82.35M736.16 84.50H740.46M738.31 82.35V86.65" stroke="#0000ff" stroke-width="1.0" fill="none"/><rect x="736.66" y="82.85" width="3.3" height="3.3" fill="#0000ff"/>
<rect x="736.41" y="56.10" width="3.80" height="3.80" stroke="#ff00ff" stroke-width="0.9" fill="none"/><rect x="737.81" y="57.50" width="1" height="1" fill="#ff00ff"/>
<path d="M761.70 16.60H765.30M763.50 14.80V18.40" stroke="#ff0000" stroke-width="1.2" fill="none"/>
<path d="M761.40 50.90L765.60 55.10M761.40 55.10L765.60 50.90" stroke="#00ff00" stroke-width="1.1" fill="none"/>
<path d="M761.35 61.25L765.65 65.55M761.35 65.55L765.65 61.25M761.35 63.40H765.65M763.50 61.25V65.55" stroke="#0000ff" stroke-width="1.0" fill="none"/><rect x="761.85" y="61.75" width="3.3" height="3.3" fill="#0000ff"/>
<rect x="761.60" y="34.60" width="3.80" height="3.80" stroke="#ff00ff" stroke-width="0.9" fill="none"/><rect x="763.00" y="36.00" width="1" height="1" fill="#ff00ff"/>
</g>
<circle cx="561.96" cy="196.00" r="6.7" fill="none" stroke="#000" stroke-width="0.6"/>
<circle cx="587.15" cy="160.40" r="6.7" fill="none" stroke="#000" stroke-width="0.6"/>
<circle cx="637.54" cy="166.70" r="6.7" fill="none" stroke="#000" stroke-width="0.6"/>
<circle cx="713.12" cy="94.20" r="6.7" fill="none" stroke="#000" stroke-width="0.6"/>
</g>
</svg>
</body></html>
